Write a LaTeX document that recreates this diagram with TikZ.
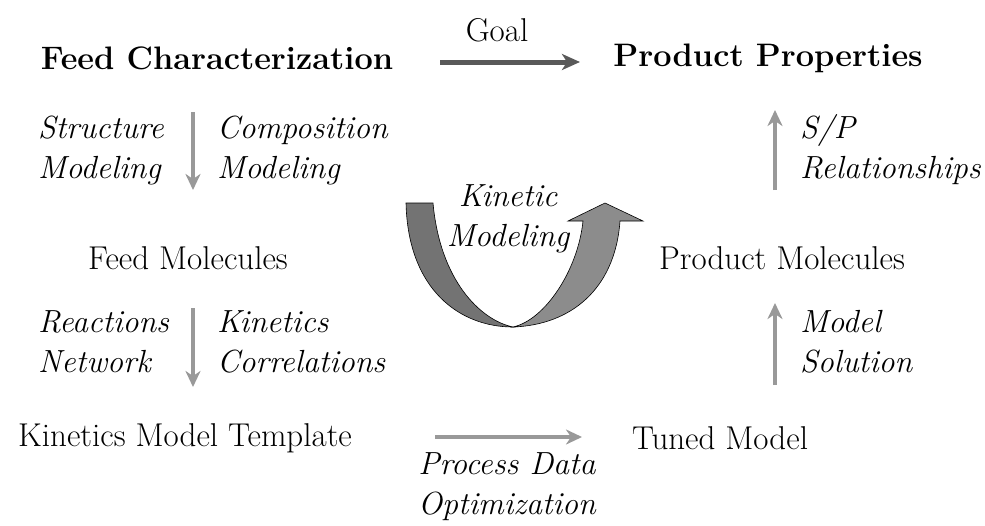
\documentclass[tikz,border=0pt]{standalone}
\usetikzlibrary{arrows.meta}
\begin{document}
\begin{tikzpicture}[x=1pt,y=-1pt,
  lbl/.style={inner sep=0pt,font=\fontsize{33}{40}\selectfont},
  ilbl/.style={inner sep=0pt,font=\fontsize{32}{40}\selectfont\itshape},
  blbl/.style={inner sep=0pt,font=\fontsize{32.5}{40}\selectfont\bfseries},
  garrow/.style={draw=gray!80,line width=4pt,-{Stealth[length=16pt,width=15pt,inset=5pt]}},
  darrow/.style={draw=black!65,line width=5pt,-{Stealth[length=18pt,width=16pt,inset=5pt]}}]
\useasboundingbox (0,0) rectangle (985,525);
% main nodes
\node[lbl] (goal) at (497,30) {Goal};
\node[blbl] (fc) at (217,58) {Feed Characterization};
\node[blbl] (pp) at (768,58) {Product Properties};
\node[lbl] (fm) at (188,258) {Feed Molecules};
\node[lbl] (pm) at (782,258) {Product Molecules};
\node[lbl] (kmt) at (185,438) {Kinetics Model Template};
\node[lbl] (tm) at (720,438) {Tuned Model};
% arrow end coordinates
\coordinate (g1) at (440,62); \coordinate (g2) at (580,62);
\coordinate (l1a) at (193,112); \coordinate (l1b) at (193,190);
\coordinate (l2a) at (193,308); \coordinate (l2b) at (193,387);
\coordinate (b1) at (435,437); \coordinate (b2) at (582,437);
\coordinate (r2a) at (775,385); \coordinate (r2b) at (775,303);
\coordinate (r1a) at (775,190); \coordinate (r1b) at (775,110);
% connectors
\draw[darrow] (g1) -- (g2);
\draw[garrow] (l1a) -- (l1b);
\draw[garrow] (l2a) -- (l2b);
\draw[garrow] (b1) -- (b2);
\draw[garrow] (r2a) -- (r2b);
\draw[garrow] (r1a) -- (r1b);
% arrow labels
\node[ilbl,align=left,anchor=west] (sm) at (38,150) {Structure\\Modeling};
\node[ilbl,align=left,anchor=west] (cm) at (217,150) {Composition\\Modeling};
\node[ilbl,align=left,anchor=west] (rn) at (38,342) {Reactions\\Network};
\node[ilbl,align=left,anchor=west] (kc) at (217,342) {Kinetics\\Correlations};
\node[ilbl,align=center] (pdo) at (507,487) {Process Data\\Optimization};
\node[ilbl,align=left,anchor=west] (ms) at (800,342) {Model\\Solution};
\node[ilbl,align=left,anchor=west] (sp) at (800,150) {S/P\\Relationships};
% curved arrow
\fill[black!55,draw=black,line width=0.6pt] (406,203) -- (433,203)
  .. controls (440,280) and (480,320) .. (513,327)
  .. controls (460,327) and (408,290) .. (406,203) -- cycle;
\fill[black!45,draw=black,line width=0.6pt] (513,327)
  .. controls (545,320) and (578,270) .. (583,221)
  -- (568,221) -- (605,203) -- (643,221) -- (620,221)
  .. controls (615,290) and (570,325) .. (513,327) -- cycle;
\node[ilbl,align=center] (km) at (508,219) {Kinetic\\Modeling};
\end{tikzpicture}
\end{document}
